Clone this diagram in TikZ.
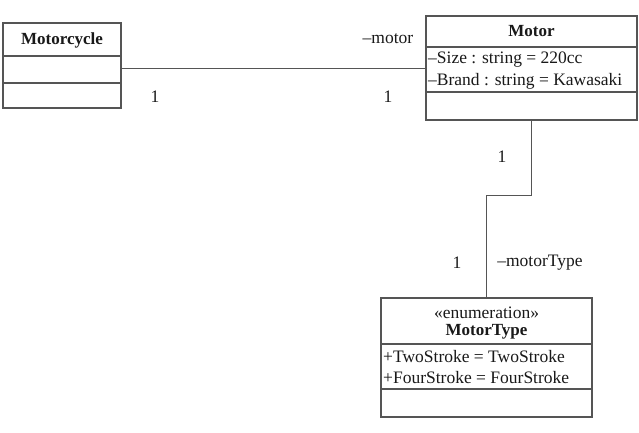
\documentclass[tikz,border=0pt]{standalone}
\usepackage{fontspec}
\setmainfont{Liberation Serif}
\definecolor{linegray}{RGB}{85,85,85}
\definecolor{txt}{RGB}{25,25,25}
\begin{document}
\begin{tikzpicture}[x=1pt,y=-1pt,
  umlbox/.style={draw=linegray, line width=1.2pt, inner sep=0pt, outer sep=0pt, anchor=north west},
  divider/.style={draw=linegray, line width=1.2pt},
  conn/.style={draw=linegray, line width=0.9pt},
  lbl/.style={text=txt, font=\fontsize{17.5}{20}\selectfont, inner sep=0pt},
  cname/.style={text=txt, font=\fontsize{17}{20}\selectfont\bfseries, inner sep=0pt},
  attr/.style={text=txt, font=\fontsize{17.5}{20}\selectfont, inner sep=0pt, anchor=west}]
\useasboundingbox[fill=white] (0,0) rectangle (639,432);

% Motorcycle
\node[umlbox, minimum width=118pt, minimum height=85pt] (cycle) at (3,23) {};
\draw[divider] (cycle.west |- 0,56) -- (cycle.east |- 0,56);
\draw[divider] (cycle.west |- 0,83) -- (cycle.east |- 0,83);
\node[cname] (cyclename) at (62,40) {Motorcycle};

% Motor
\node[umlbox, minimum width=211pt, minimum height=104pt] (motor) at (426,16) {};
\draw[divider] (motor.west |- 0,47) -- (motor.east |- 0,47);
\draw[divider] (motor.west |- 0,92) -- (motor.east |- 0,92);
\node[cname] (motorname) at (531.5,31) {Motor};
\node[attr] (size) at (428,60) {–Size : string = 220cc};
\node[attr] (brand) at (428,81) {–Brand : string = Kawasaki};

% MotorType
\node[umlbox, minimum width=211pt, minimum height=119pt] (enum) at (381,298) {};
\draw[divider] (enum.west |- 0,344) -- (enum.east |- 0,344);
\draw[divider] (enum.west |- 0,389) -- (enum.east |- 0,389);
\node[lbl] (stereo) at (486.5,313) {«enumeration»};
\node[cname] (enumname) at (486.5,332) {MotorType};
\node[attr] (two) at (383,357) {+TwoStroke = TwoStroke};
\node[attr] (four) at (383,378) {+FourStroke = FourStroke};

% connectors
\draw[conn] (motor.west) -- (motor.west -| cycle.east);
\coordinate (bend) at (0,195);
\draw[conn] (motor.south) -- (motor.south |- bend) -| (enum.north);

% labels
\node[lbl] (m1) at (155,97) {1};
\node[lbl] (m2) at (388,97) {1};
\node[lbl] (rolemotor) at (388,39) {–motor};
\node[lbl] (m3) at (502,157) {1};
\node[lbl] (m4) at (457,263) {1};
\node[lbl] (roletype) at (540,263) {–motorType};
\end{tikzpicture}
\end{document}
